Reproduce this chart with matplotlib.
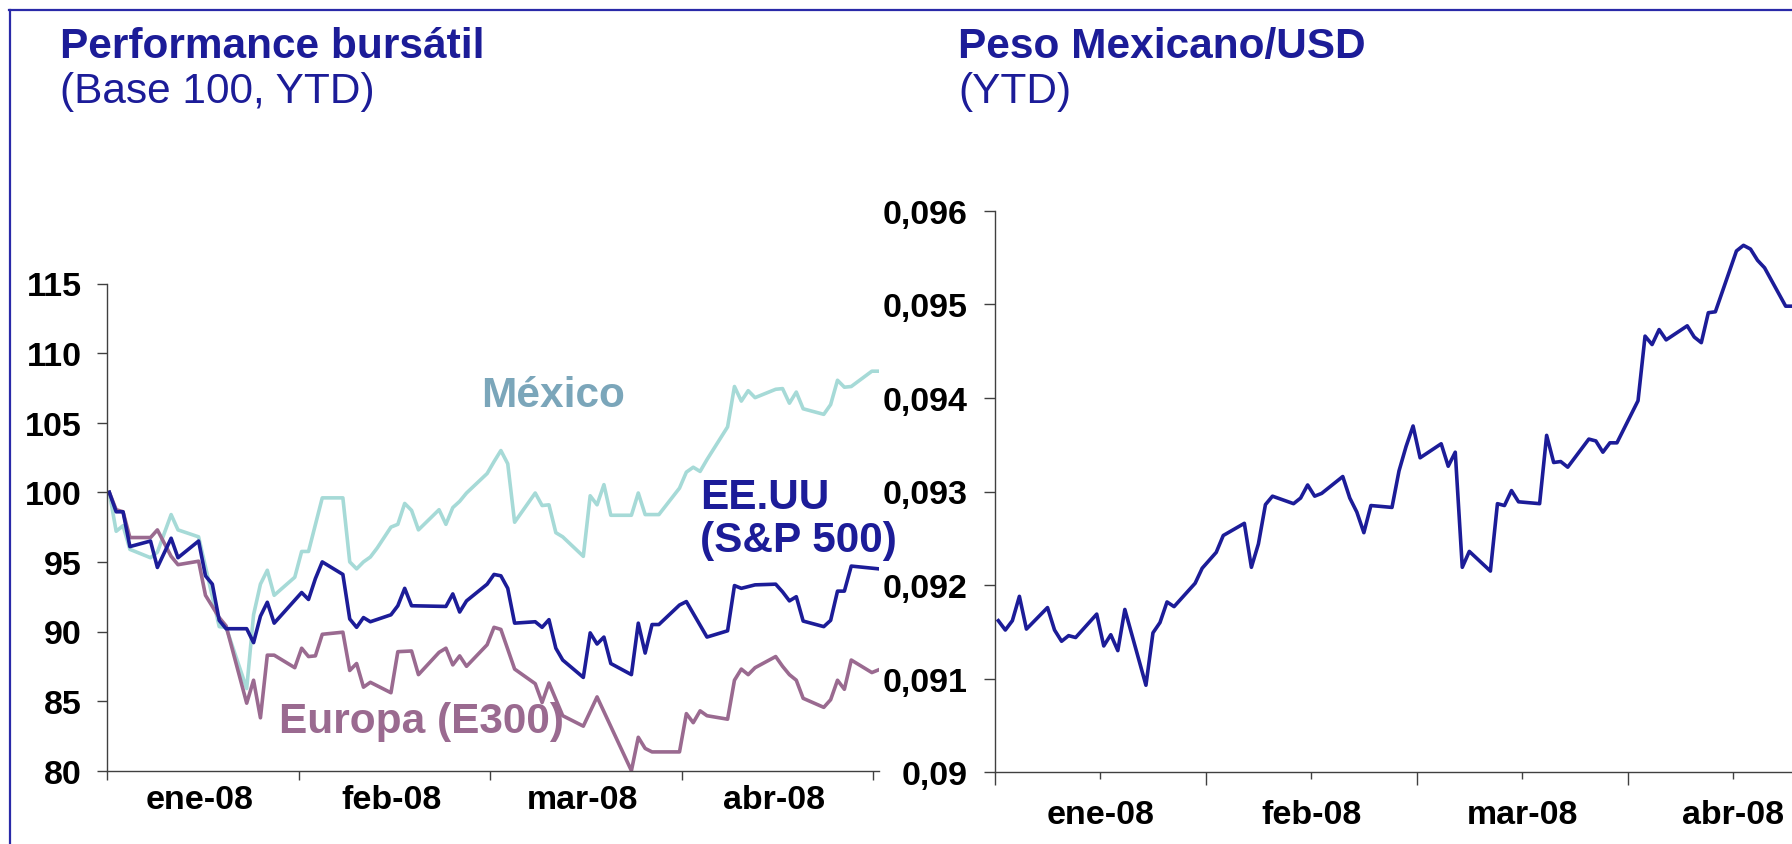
import numpy as np
import matplotlib
matplotlib.use("Agg")
import matplotlib.pyplot as plt
from matplotlib.lines import Line2D

plt.rcParams['font.family'] = ['Liberation Sans', 'DejaVu Sans']

# ---- datos (dias corridos desde el inicio) ----
meses = ['ene-08', 'feb-08', 'mar-08', 'abr-08']

mexico_dias = [0, 1, 2, 3, 6, 7, 9, 10, 13, 16, 17, 20, 21, 22, 23, 24, 27, 28, 29, 31,
               34, 35, 36, 37, 38, 39, 41, 42, 43, 44, 45, 48, 49, 50, 51, 52, 55, 56, 57, 58,
               59, 62, 63, 64, 65, 66, 69, 70, 71, 72, 73, 76, 77, 78, 80, 83, 84, 85, 86, 87,
               90, 91, 92, 93, 94, 97, 98, 99, 100, 101, 104, 105, 106, 107, 108, 111, 112]
mexico = [100, 97.2, 97.6, 95.9, 95.3, 95.7, 98.4, 97.3, 96.8, 90.35,
          90.3, 85.9, 91.2, 93.4, 94.4, 92.6, 93.9, 95.75, 95.75, 99.6,
          99.6, 95.0, 94.5, 95.0, 95.35, 96.0, 97.5, 97.7, 99.2, 98.7,
          97.3, 98.75, 97.7, 98.9, 99.35, 99.95, 101.35, 102.2, 103.0, 102.05,
          97.85, 99.95, 99.05, 99.1, 97.1, 96.8, 95.4, 99.75, 99.1, 100.55,
          98.35, 98.35, 99.95, 98.4, 98.4, 100.3, 101.45, 101.8, 101.5, 102.35,
          104.7, 107.6, 106.55, 107.3, 106.8, 107.4, 107.45, 106.4, 107.2, 106.0,
          105.6, 106.3, 108.05, 107.55, 107.6, 108.7, 108.7]

eeuu_dias = [0, 1, 2, 3, 6, 7, 9, 10, 13, 14, 15, 16, 17, 20, 21, 22, 23, 24, 28, 29,
             30, 31, 34, 35, 36, 37, 38, 41, 42, 43, 44, 49, 50, 51, 52, 55, 56, 57, 58, 59,
             62, 63, 64, 65, 66, 69, 70, 71, 72, 73, 76, 77, 78, 79, 80, 83, 84, 87, 90, 91,
             92, 94, 97, 98, 99, 100, 101, 104, 105, 106, 107, 108, 111, 112]
eeuu = [100, 98.6, 98.6, 96.1, 96.5, 94.6, 96.7, 95.3, 96.5, 94.0,
        93.4, 90.8, 90.2, 90.2, 89.2, 91.1, 92.1, 90.6, 92.8, 92.3,
        93.8, 95.0, 94.1, 90.9, 90.3, 91.0, 90.7, 91.2, 91.85, 93.1,
        91.85, 91.8, 92.7, 91.4, 92.2, 93.4, 94.1, 94.0, 93.1, 90.6,
        90.7, 90.3, 90.85, 88.8, 87.95, 86.7, 89.9, 89.1, 89.6, 87.7,
        86.9, 90.6, 88.45, 90.5, 90.5, 91.9, 92.15, 89.6, 90.05, 93.3,
        93.1, 93.35, 93.4, 92.85, 92.2, 92.5, 90.75, 90.35, 90.8, 92.9,
        92.9, 94.7, 94.55, 94.5]

europa_dias = [0, 1, 2, 3, 6, 7, 9, 10, 13, 14, 15, 16, 17, 20, 21, 22, 23, 24, 27, 28,
               29, 30, 31, 34, 35, 36, 37, 38, 41, 42, 44, 45, 48, 49, 50, 51, 52, 55, 56, 57,
               59, 62, 63, 64, 66, 69, 71, 76, 77, 78, 79, 83, 84, 85, 86, 87, 90, 91, 92, 93,
               94, 97, 98, 99, 100, 101, 104, 105, 106, 107, 108, 111, 112]
europa = [100, 98.75, 98.6, 96.75, 96.75, 97.3, 95.4, 94.8, 95.05, 92.6,
          91.8, 91.0, 90.4, 84.85, 86.5, 83.8, 88.3, 88.3, 87.4, 88.8,
          88.2, 88.25, 89.8, 89.95, 87.2, 87.7, 86.0, 86.35, 85.6, 88.55,
          88.6, 86.9, 88.5, 88.8, 87.6, 88.25, 87.5, 89.05, 90.3, 90.15,
          87.3, 86.25, 84.9, 86.3, 83.95, 83.2, 85.3, 80.0, 82.4, 81.6,
          81.35, 81.35, 84.1, 83.45, 84.3, 83.95, 83.7, 86.5, 87.3, 86.9,
          87.4, 88.2, 87.5, 86.9, 86.5, 85.2, 84.55, 85.1, 86.5, 85.85,
          87.95, 87.05, 87.25]

peso_dias = [0, 1, 2, 3, 4, 7, 8, 9, 10, 11, 14, 15, 16, 17, 18, 21, 22, 23, 24, 25,
             28, 29, 31, 32, 35, 36, 37, 38, 39, 42, 43, 44, 45, 46, 49, 50, 51, 52, 53, 56,
             57, 58, 59, 60, 63, 64, 65, 66, 67, 70, 71, 72, 73, 74, 77, 78, 79, 80, 81, 84,
             85, 86, 87, 88, 91, 92, 93, 94, 95, 98, 99, 100, 101, 102, 105, 106, 107, 108, 109, 112,
             113]
peso = [0.09162, 0.09152, 0.09162, 0.09188, 0.09153, 0.09176, 0.09152, 0.09140, 0.09146, 0.09144,
        0.09169, 0.09135, 0.09147, 0.09130, 0.09174, 0.09093, 0.09149, 0.09160, 0.09182, 0.09177,
        0.09202, 0.09218, 0.09235, 0.09253, 0.09266, 0.09219, 0.09244, 0.09286, 0.09295, 0.09287,
        0.09293, 0.09307, 0.09295, 0.09298, 0.09316, 0.09293, 0.09278, 0.09256, 0.09285, 0.09283,
        0.09322, 0.09348, 0.09370, 0.09336, 0.09351, 0.09327, 0.09342, 0.09219, 0.09236, 0.09215,
        0.09287, 0.09285, 0.09301, 0.09289, 0.09287, 0.09360, 0.09331, 0.09332, 0.09326, 0.09356,
        0.09354, 0.09342, 0.09352, 0.09352, 0.09397, 0.09466, 0.09457, 0.09473, 0.09462, 0.09477,
        0.09465, 0.09459, 0.09491, 0.09492, 0.09557, 0.09563, 0.09559, 0.09547, 0.09539, 0.09498,
        0.09498]

bolsa_ticks = [80, 85, 90, 95, 100, 105, 110, 115]
peso_ticks = [0.090, 0.091, 0.092, 0.093, 0.094, 0.095, 0.096]
peso_etiquetas = ['0,09', '0,091', '0,092', '0,093', '0,094', '0,095', '0,096']

# ---- colores ----
azul = '#1c1c98'
turquesa = '#a6dad7'
turquesa_txt = '#7ba6ba'
malva = '#9a6a90'
eje = '#404040'
grosor = 2.6

W, H = 1792, 845
fig = plt.figure(figsize=(W / 100, H / 100), dpi=100)
fig.patch.set_facecolor('white')


def caja(x0, y0, x1, y1):
    # pixeles (origen arriba-izquierda) -> fraccion de figura
    return [x0 / W, 1 - y1 / H, (x1 - x0) / W, (y1 - y0) / H]


def fx(px):
    return px / W


def fy(py):
    return 1 - py / H


# marco azul (cortado a la derecha y abajo)
fig.add_artist(Line2D([fx(9.5), fx(9.5)], [fy(11), fy(H + 5)], color='#2a2aa8', lw=1.6))
fig.add_artist(Line2D([fx(9), fx(W + 5)], [fy(11), fy(11)], color='#2a2aa8', lw=1.6))

# titulos
fig.text(fx(60), fy(58), 'Performance bursátil', fontsize=30.5, fontweight='bold',
         color=azul, va='baseline', ha='left')
fig.text(fx(60), fy(103), '(Base 100, YTD)', fontsize=30.5, color=azul,
         va='baseline', ha='left')
fig.text(fx(958), fy(58), 'Peso Mexicano/USD', fontsize=30.5, fontweight='bold',
         color=azul, va='baseline', ha='left')
fig.text(fx(958), fy(103), '(YTD)', fontsize=30.5, color=azul,
         va='baseline', ha='left')

# ---------- panel izquierdo ----------
ax1 = fig.add_axes(caja(107.3, 284.5, 879, 771.7))
ax1.plot(mexico_dias, mexico, color=turquesa, lw=grosor)
ax1.plot(europa_dias, europa, color=malva, lw=grosor)
ax1.plot(eeuu_dias, eeuu, color=azul, lw=grosor)
ax1.set_xlim(-0.29, 112.04)
ax1.set_ylim(80, 115)

t1 = np.linspace(-0.29, 111.2, 5)
ax1.set_xticks(t1)
ax1.set_xticklabels([])
ax1.set_xticks((t1[:-1] + t1[1:]) / 2 - 0.5, minor=True)
ax1.set_xticklabels(meses, minor=True)
ax1.set_yticks(bolsa_ticks)
ax1.set_yticklabels([str(v) for v in bolsa_ticks])
ax1.tick_params(axis='x', which='major', length=6.5, width=1, color=eje, direction='out')
ax1.tick_params(axis='x', which='minor', length=0, pad=9.5, labelsize=24.5)
ax1.tick_params(axis='y', which='major', length=7.2, width=1, color=eje, pad=11, labelsize=24.5)

ax1.text(54.1, 106.17, 'México', fontsize=30.5, fontweight='bold', color=turquesa_txt,
         va='baseline', ha='left')
ax1.text(86.0, 98.9, 'EE.UU', fontsize=30.5, fontweight='bold', color=azul,
         va='baseline', ha='left')
ax1.text(86.0, 95.8, '(S&P 500)', fontsize=30.5, fontweight='bold', color=azul,
         va='baseline', ha='left')
ax1.text(24.7, 82.78, 'Europa (E300)', fontsize=30.5, fontweight='bold', color=malva,
         va='baseline', ha='left')

# ---------- panel derecho ----------
ax2 = fig.add_axes(caja(995, 211.7, 1800, 773.3))
ax2.plot(peso_dias, peso, color=azul, lw=grosor)
ax2.set_xlim(-0.47, 114.04)
ax2.set_ylim(0.090, 0.096)

t2 = -0.47 + 30.01 * np.arange(4)
ax2.set_xticks(t2)
ax2.set_xticklabels([])
ax2.set_xticks(t2 + 15.0, minor=True)
ax2.set_xticklabels(meses, minor=True)
ax2.set_yticks(peso_ticks)
ax2.set_yticklabels(peso_etiquetas)
ax2.tick_params(axis='x', which='major', length=9.5, width=1, color=eje, direction='out')
ax2.tick_params(axis='x', which='minor', length=5, width=1, color=eje, pad=14, labelsize=24.5)
ax2.tick_params(axis='y', which='major', length=8, width=1, color=eje, pad=11.5, labelsize=24.5)

for ax in (ax1, ax2):
    ax.spines['top'].set_visible(False)
    ax.spines['right'].set_visible(False)
    for s in ('left', 'bottom'):
        ax.spines[s].set_color(eje)
        ax.spines[s].set_linewidth(1)
    ax.patch.set_alpha(0)
    for lab in ax.get_xticklabels(minor=True) + ax.get_yticklabels():
        lab.set_fontweight('bold')

fig.savefig('out.png', dpi=100, facecolor='white')
